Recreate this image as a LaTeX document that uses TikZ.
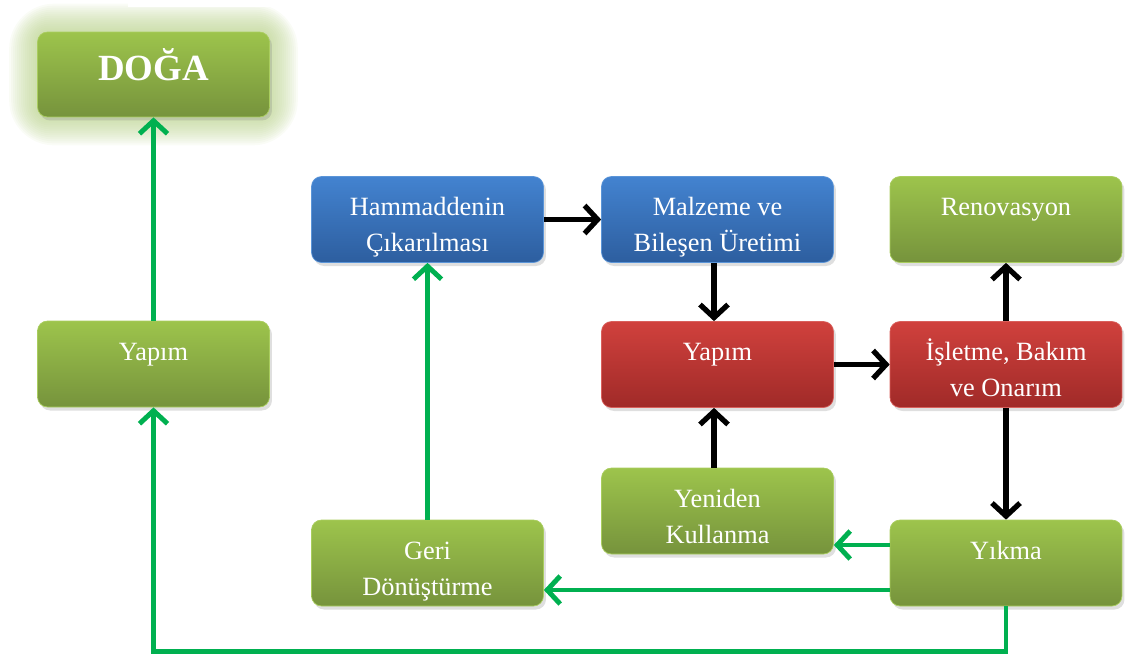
\documentclass[tikz,border=0pt]{standalone}
\usepackage{fontspec}
\setmainfont{Liberation Serif}
\usetikzlibrary{arrows.meta,shadows,backgrounds}

\definecolor{gtop}{HTML}{9DC44C}
\definecolor{gbot}{HTML}{76933C}
\definecolor{gline}{HTML}{A9CD5E}
\definecolor{btop}{HTML}{4383D0}
\definecolor{bbot}{HTML}{2D5E9F}
\definecolor{bline}{HTML}{5B95D8}
\definecolor{rtop}{HTML}{D0413D}
\definecolor{rbot}{HTML}{A02A28}
\definecolor{rline}{HTML}{D9605C}
\definecolor{arrowgreen}{HTML}{00B050}
\definecolor{glowgreen}{HTML}{B5CF85}

% text starts at a fixed depth below the box top
\newcommand\boxlines[2][0.78cm]{\parbox[c][1.72cm][t]{4.5cm}{\centering\rule{0pt}{#1}#2}}

\begin{document}
\begin{tikzpicture}[x=0.02cm,y=-0.02cm,
    box/.style={rounded corners=0.2cm, minimum width=4.64cm, minimum height=1.72cm,
        inner sep=0pt, text=white, font=\fontsize{15}{20.5}\selectfont,
        drop shadow={shadow xshift=0.05cm, shadow yshift=-0.07cm, opacity=0.25}},
    greenbox/.style={box, draw=gline, top color=gtop, bottom color=gbot},
    bluebox/.style={box, draw=bline, top color=btop, bottom color=bbot},
    redbox/.style={box, draw=rline, top color=rtop, bottom color=rbot},
    blackarrow/.style={line width=3pt, -{Straight Barb[length=0.26cm,width=0.56cm]}},
    greenarrow/.style={line width=2.8pt, arrowgreen, -{Straight Barb[length=0.26cm,width=0.56cm]}}]
    \useasboundingbox (0,0) rectangle (1126,657);

    \node[greenbox, minimum height=1.7cm] (doga) at (153.5,74.5)
        {\parbox[c][1.7cm][t]{4.5cm}{\centering\rule{0pt}{0.96cm}\fontsize{21}{24}\selectfont\bfseries DOĞA}};
    \node[greenbox] (yapimL) at (153.5,364) {\boxlines{Yapım}};

    \node[bluebox] (ham) at (427.5,219.5) {\boxlines{Hammaddenin\\Çıkarılması}};
    \node[bluebox] (malz) at (717.5,219.5) {\boxlines{Malzeme ve\\Bileşen Üretimi}};
    \node[greenbox] (reno) at (1006,219.5) {\boxlines{Renovasyon}};
    \node[redbox] (yapim) at (717.5,364.5) {\boxlines{Yapım}};
    \node[redbox] (isl) at (1006,364.5) {\boxlines{İşletme, Bakım\\ve Onarım}};
    \node[greenbox] (yeni) at (717.5,511) {\boxlines{Yeniden\\Kullanma}};
    \node[greenbox] (geri) at (427.5,563) {\boxlines{Geri\\Dönüştürme}};
    \node[greenbox] (yikma) at (1006,563) {\boxlines{Yıkma}};

    % glow round DOGA
    \begin{scope}[on background layer]
        \foreach \g [evaluate=\g as \r using 0.2+0.05*\g] in {1,...,14}
            \fill[glowgreen, opacity=0.07, rounded corners=\r cm]
                ([shift={(-2*\g,-2*\g)}]doga.north west) rectangle ([shift={(2*\g,2*\g)}]doga.south east);
        \fill[white] (128,0) rectangle (287,7);
    \end{scope}

    % black arrows
    \draw[blackarrow] (ham.east) -- (malz.west);
    \draw[blackarrow] ([xshift=-0.07cm]malz.south) -- ([xshift=-0.07cm]yapim.north);
    \draw[blackarrow] (yapim.east) -- (isl.west);
    \draw[blackarrow] (isl.north) -- (reno.south);
    \draw[blackarrow] (isl.south) -- (yikma.north);
    \draw[blackarrow] ([xshift=-0.07cm]yeni.north) -- ([xshift=-0.07cm]yapim.south);

    % green arrows
    \coordinate (y1) at ([yshift=0.36cm]yikma.west);
    \coordinate (y2) at ([yshift=-0.54cm]yikma.west);
    \draw[greenarrow] (y1) -- (y1 -| yeni.east);
    \draw[greenarrow] (y2) -- (y2 -| geri.east);
    \draw[greenarrow] (geri.north) -- (ham.south);
    \draw[greenarrow] (yikma.south) -- ++(0,45) -| (yapimL.south);
    \draw[greenarrow] (yapimL.north) -- (doga.south);
\end{tikzpicture}
\end{document}
